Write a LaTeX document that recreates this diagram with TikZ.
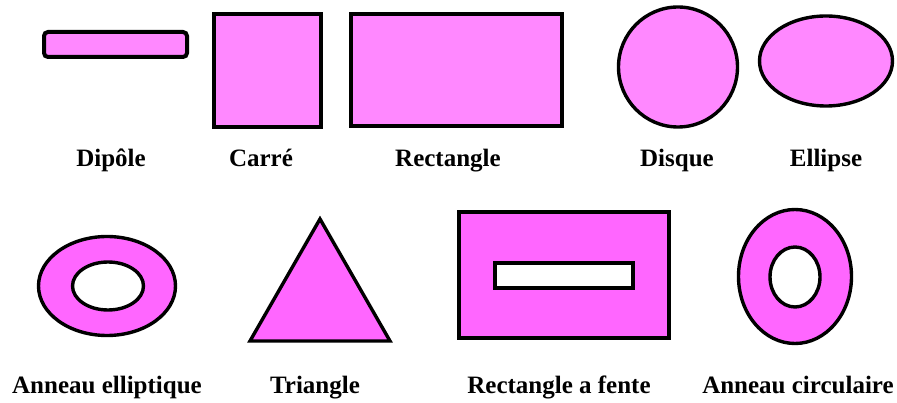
\documentclass[tikz,border=0pt]{standalone}
\usepackage{fontspec}
\setmainfont{Liberation Serif}
\usepackage{tikz}
\usetikzlibrary{positioning}

\definecolor{pinkA}{HTML}{FF88FF}
\definecolor{pinkB}{HTML}{FF66FF}

\begin{document}
\begin{tikzpicture}[
    x=1pt, y=-1pt,
    line width=3.4pt,
    every node/.style={font=\fontsize{25}{30}\selectfont\bfseries},
    topshape/.style={draw=black, fill=pinkA},
    botshape/.style={draw=black, fill=pinkB, even odd rule},
    lbl/.style={anchor=base, inner sep=0pt}
]
\useasboundingbox (0,0) rectangle (897,403);

% Shapes, top row
\draw[topshape, line width=4pt, rounded corners=4pt] (44,32) rectangle (187,57);
\draw[topshape] (214,14) rectangle (321,127);
\draw[topshape] (351,14) rectangle (562,126);
\draw[topshape] (678,67) ellipse (59.5pt and 60pt);
\draw[topshape] (826,61) ellipse (66.5pt and 45pt);

% Shapes, bottom row
\draw[botshape] (107,286) ellipse (68.5pt and 49.5pt) (108,286) ellipse (35.5pt and 24pt);
\draw[botshape, line join=miter] (320,219) -- (390,341) -- (250,341) -- cycle;
\draw[botshape] (459,212) rectangle (669,338) (495,263) rectangle (633,288);
\draw[botshape] (795,276.5) ellipse (56.5pt and 67pt) (795,277) ellipse (25pt and 30pt);

% Labels
\node[lbl] (dipole) at (111,167) {Dipôle};
\node[lbl] (carre) at (261,167) {Carré};
\node[lbl] (rect) at (448,167) {Rectangle};
\node[lbl] (disque) at (677,167) {Disque};
\node[lbl] (ellipse) at (826,167) {Ellipse};
\node[lbl] (annell) at (107,393) {Anneau elliptique};
\node[lbl] (tri) at (315,393) {Triangle};
\node[lbl] (fente) at (559,393) {Rectangle a fente};
\node[lbl] (anncirc) at (798,393) {Anneau circulaire};

\end{tikzpicture}
\end{document}
